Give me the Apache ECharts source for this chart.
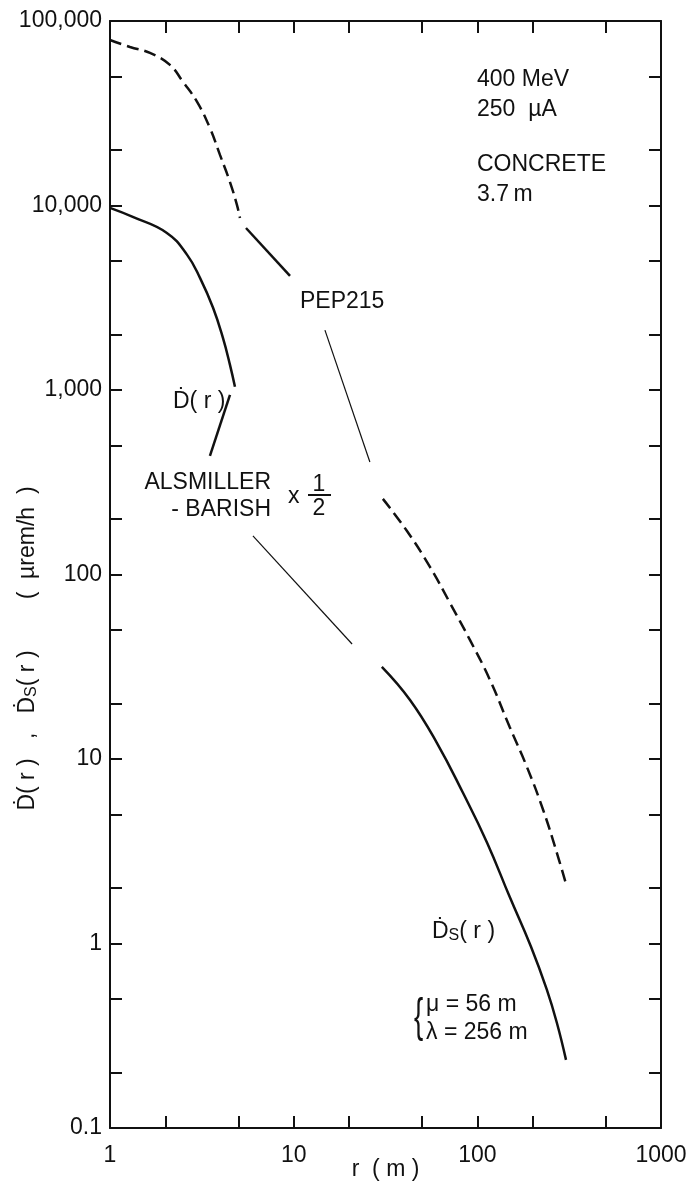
<!DOCTYPE html>
<html>
<head>
<meta charset="utf-8">
<script src="https://cdn.jsdelivr.net/npm/echarts@6/dist/echarts.min.js"></script>
<style>
  html, body { margin: 0; background: #fff; }
  #chart { width: 688px; height: 1184px; }
</style>
</head>
<body>
<div id="chart"></div>
<script>
// tick positions and labels of both log axes
const xTicks = [1, 2, 5, 10, 20, 50, 100, 200, 500, 1000];
const xLabels = [1, 10, 100, 1000];
const yTicks = [0.1, 0.2, 0.5, 1, 2, 5, 10, 20, 50, 100, 200, 500, 1000, 2000, 5000,
    10000, 20000, 50000, 100000];
const yLabels = [0.1, 1, 10, 100, 1000, 10000, 100000];

// PEP215 (dashed, solid piece, thin piece, dashed tail)
const pepTop = [[1, 78900], [1.285, 72300], [1.65, 67100], [2.12, 57800], [2.5, 46700],
    [2.98, 36400], [3.5, 26300], [3.97, 18800], [4.5, 13400], [4.91, 10070], [5.1, 8560]];
const pepMid = [[5.5, 7550], [9.55, 4150]];
const pepThin = [[14.8, 2110], [26, 407]];
const pepLow = [[30.6, 257], [41.4, 172], [55.2, 110], [70.9, 70.2], [91.1, 44.2],
    [117, 26.9], [150, 14.9], [186, 9.08], [228, 5.31], [271, 3.1], [307, 2.03]];

// D(r)
const dCurve = [[1, 9700], [1.33, 8670], [2.04, 7100], [2.63, 5400], [3.09, 4050],
    [3.64, 2790], [4.12, 1916], [4.5, 1368], [4.79, 1040]];
const dLeader = [[4.5, 940], [3.5, 439]];

// Alsmiller - Barish x 1/2
const abThin = [[6.0, 162], [20.8, 42]];

// Ds(r)
const dsCurve = [[30.2, 31.6], [43, 20.9], [60.3, 12.2], [83.5, 6.56], [113, 3.52],
    [150, 1.79], [196, 0.96], [239, 0.562], [271, 0.372], [304, 0.234]];

const ink = '#111';
const font = '"Liberation Sans", Arial, sans-serif';

function fmtY(v) {
    v = Number(Number(v).toPrecision(3));
    return v >= 1000 ? v.toLocaleString('en-US') : String(v);
}

function fmtX(v) {
    return String(Number(Number(v).toPrecision(3)));
}

function axisBase(ticks) {
    return {
        type: 'log',
        logBase: 10,
        nameMoveOverlap: false,
        axisLine: {lineStyle: {color: ink, width: 2}},
        axisTick: {inside: true, length: 12, customValues: ticks, lineStyle: {color: ink, width: 2}},
        minorTick: {show: false},
        splitLine: {show: false},
        minorSplitLine: {show: false}
    };
}

function line(data, width, dashed) {
    return {
        type: 'line',
        data: data,
        smooth: 0.45,
        symbol: 'none',
        silent: true,
        lineStyle: {color: ink, width: width, type: dashed ? [12, 6] : 'solid', cap: 'butt'}
    };
}

function txt(x, y, text, size, align) {
    return {
        type: 'text',
        x: x,
        y: y,
        style: {
            text: text,
            fill: ink,
            font: (size || 23) + 'px ' + font,
            textAlign: align || 'left',
            textVerticalAlign: 'middle'
        }
    };
}

const chart = echarts.init(document.getElementById('chart'));
chart.setOption({
    animation: false,
    backgroundColor: '#fff',
    grid: {left: 110, right: 27, top: 21, bottom: 56, outerBoundsMode: 'none', containLabel: false},
    xAxis: [
        Object.assign(axisBase(xTicks), {
            min: 1, max: 1000, position: 'bottom',
            axisLabel: {customValues: xLabels, margin: 16, fontSize: 23, color: ink,
                fontFamily: font, formatter: fmtX},
            name: 'r  ( m )', nameLocation: 'middle', nameGap: 30,
            nameTextStyle: {fontSize: 23, color: ink, fontFamily: font}
        }),
        Object.assign(axisBase(xTicks), {
            min: 1, max: 1000, position: 'top', axisLabel: {show: false}
        })
    ],
    yAxis: [
        Object.assign(axisBase(yTicks), {
            min: 0.1, max: 100000, position: 'left',
            axisLabel: {customValues: yLabels, margin: 8, fontSize: 23, color: ink,
                fontFamily: font, formatter: fmtY},
            name: 'Ḋ( r )   ,   Ḋ{s|S}( r )        (  µrem/h  )', nameLocation: 'middle',
            nameGap: 70, nameRotate: 90,
            nameTextStyle: {
                fontSize: 23, color: ink, fontFamily: font, padding: [0, 148, 0, 0],
                rich: {s: {fontSize: 16, fontFamily: font, color: ink, padding: [8, 0, 0, 0]}}
            }
        }),
        Object.assign(axisBase(yTicks), {
            min: 0.1, max: 100000, position: 'right', axisLabel: {show: false}
        })
    ],
    series: [
        line(pepTop, 2.5, true),
        line(pepMid, 2.5, false),
        line(pepThin, 1.2, false),
        line(pepLow, 2.5, true),
        line(dCurve, 2.5, false),
        line(dLeader, 2.5, false),
        line(abThin, 1.2, false),
        line(dsCurve, 2.5, false)
    ],
    graphic: [
        txt(477, 80, '400 MeV'),
        txt(477, 110, '250  µA'),
        txt(477, 165, 'CONCRETE'),
        txt(477, 195, '3.7\u2009m'),
        txt(300, 302, 'PEP215'),
        txt(173, 402, 'Ḋ( r )'),
        txt(271, 483, 'ALSMILLER', 23, 'right'),
        txt(271, 510, '- BARISH', 23, 'right'),
        txt(288, 497, 'x'),
        txt(319, 485, '1', 23, 'center'),
        {type: 'line', shape: {x1: 308, y1: 495, x2: 331, y2: 495},
            style: {stroke: ink, lineWidth: 2}},
        txt(319, 509, '2', 23, 'center'),
        {
            type: 'text', x: 432, y: 932,
            style: {
                text: '{a|Ḋ}{s|S}{a|( r )}', fill: ink, textVerticalAlign: 'middle',
                rich: {
                    a: {font: '23px ' + font, fill: ink},
                    s: {font: '16px ' + font, fill: ink, padding: [8, 0, 0, 0]}
                }
            }
        },
        {type: 'text', x: 414, y: 1018, scaleX: 0.6,
            style: {text: '{', fill: ink, font: '46px ' + font, textVerticalAlign: 'middle'}},
        txt(426, 1005, 'μ = 56 m'),
        txt(426, 1033, 'λ = 256 m')
    ]
});
</script>
</body>
</html>
